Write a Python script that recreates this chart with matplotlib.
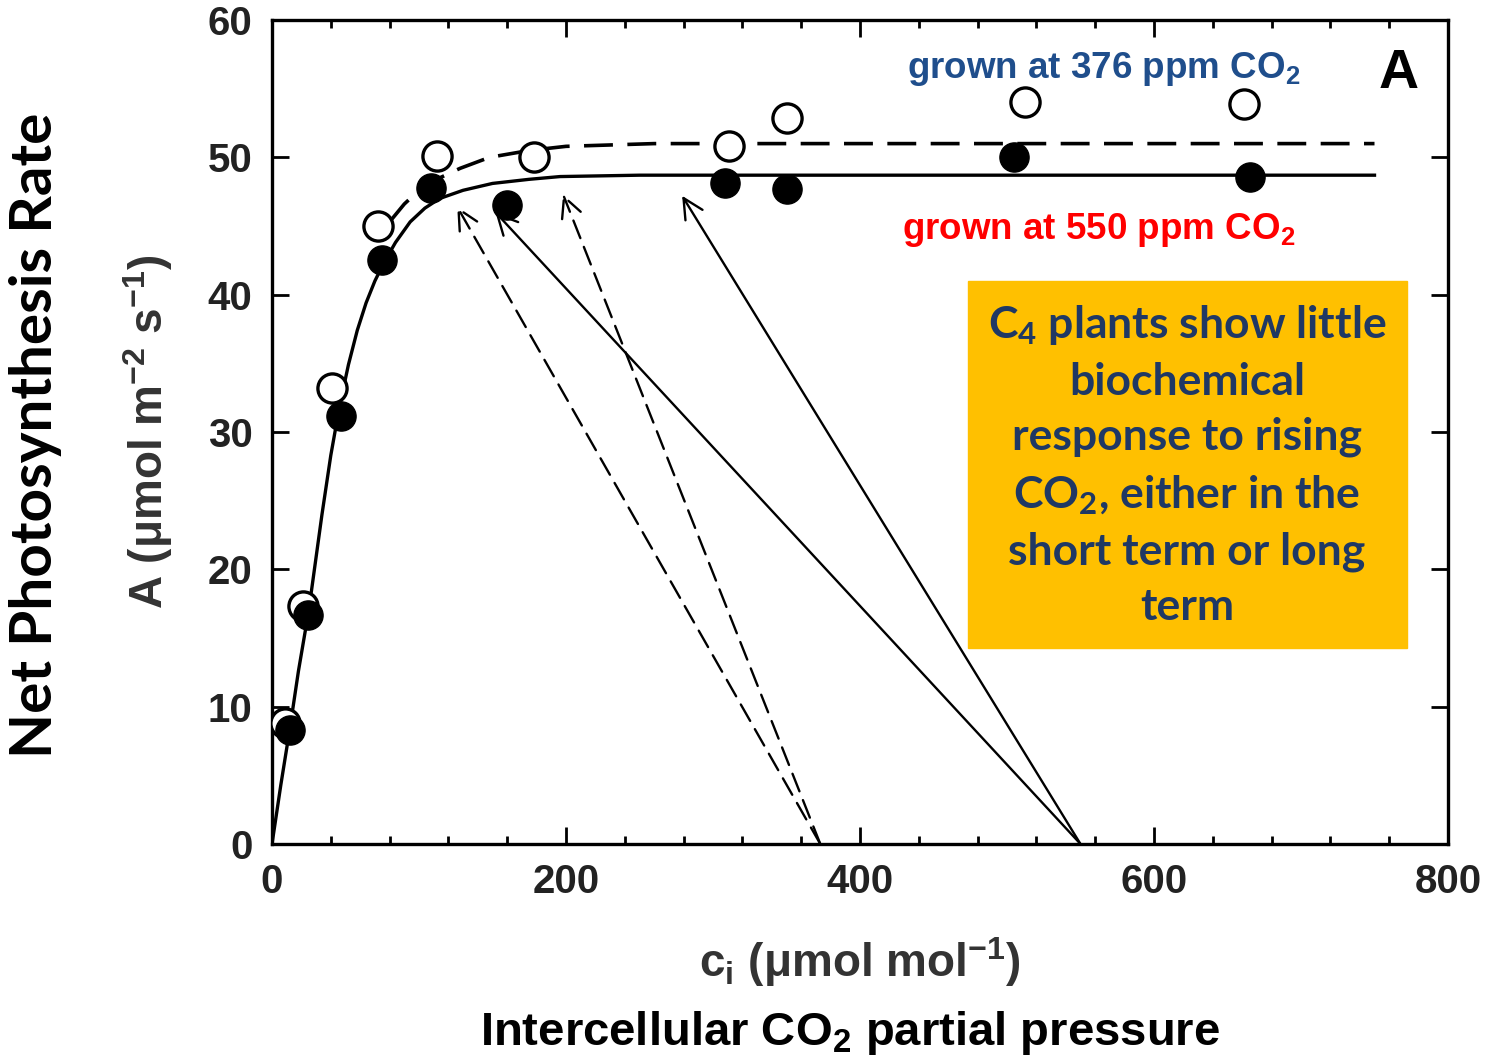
import matplotlib.pyplot as plt
from matplotlib.patches import Rectangle
from matplotlib.ticker import MultipleLocator

plt.rcParams['mathtext.default'] = 'regular'

# measured points (ci, A)
ci_376 = [9, 21, 41, 72, 112, 178, 311, 350, 512, 661]
a_376 = [8.8, 17.3, 33.2, 45.0, 50.1, 50.0, 50.8, 52.9, 54.0, 53.9]
ci_550 = [12, 24.5, 47, 75, 108, 160, 308, 350, 505, 665]
a_550 = [8.3, 16.7, 31.2, 42.5, 47.8, 46.5, 48.1, 47.7, 50.0, 48.6]

# fitted response curves
fit_550_x = [0, 6, 12, 18, 25, 34, 40, 46, 52, 58, 64, 70, 76, 84, 94, 104, 114, 130, 150, 175, 196, 250, 750]
fit_550_y = [0, 4.3, 8.3, 12.6, 17.0, 24.0, 28.3, 31.9, 34.9, 37.4, 39.4, 41.0, 42.3, 43.8, 45.3, 46.3, 47.0, 47.6, 48.1, 48.4, 48.6, 48.7, 48.7]
fit_376_x = [80, 90, 100, 114, 128, 148, 175, 200, 260, 750]
fit_376_y = [45.3, 46.6, 47.6, 48.5, 49.2, 50.0, 50.5, 50.8, 51.0, 51.0]

# arrows: growth Ca on the x axis -> operating ci on the curve
arrow_dashed = [(373, 126, 46.4), (373, 198, 47.3)]
arrow_solid = [(550, 152, 46.0), (550, 279, 47.2)]

fig = plt.figure(figsize=(14.89, 10.61), dpi=100)
ax = fig.add_axes([272 / 1489, 1 - 844 / 1061, 1176 / 1489, 824 / 1061])

ax.plot(fit_550_x, fit_550_y, color='black', lw=2.4, zorder=2)
ax.plot(fit_376_x, fit_376_y, color='black', lw=2.6, dashes=(8, 4), zorder=2)

for x0, x1, y1 in arrow_dashed:
    ax.annotate('', xy=(x1, y1), xytext=(x0, 0),
                arrowprops=dict(arrowstyle='->', color='black', lw=1.7,
                                linestyle=(0, (8, 4)), mutation_scale=36,
                                shrinkA=0, shrinkB=0))
for x0, x1, y1 in arrow_solid:
    ax.annotate('', xy=(x1, y1), xytext=(x0, 0),
                arrowprops=dict(arrowstyle='->', color='black', lw=1.7,
                                mutation_scale=36, shrinkA=0, shrinkB=0))

ax.plot(ci_376, a_376, 'o', ms=21, mfc='white', mec='black', mew=2.4, zorder=3)
ax.plot(ci_550, a_550, 'o', ms=21, mfc='black', mec='black', zorder=4)

ax.set_xlim(0, 800)
ax.set_ylim(0, 60)
ax.xaxis.set_major_locator(MultipleLocator(200))
ax.xaxis.set_minor_locator(MultipleLocator(40))
ax.yaxis.set_major_locator(MultipleLocator(10))
ax.tick_params(which='both', direction='in', top=True, right=True, width=2)
ax.tick_params(which='major', length=12, pad=14, labelsize=29)
ax.tick_params(which='minor', length=6)
for lab in ax.get_xticklabels() + ax.get_yticklabels():
    lab.set_fontfamily('Liberation Sans')
    lab.set_fontweight('bold')
    lab.set_color('#222222')
for sp in ax.spines.values():
    sp.set_linewidth(2.4)

ax.text(0.707, 0.94, 'grown at 376 ppm CO$_2$', transform=ax.transAxes,
        ha='center', va='center', fontsize=26.5, fontweight='bold',
        family='Liberation Sans', color='#1f4e8c')
ax.text(0.703, 0.745, 'grown at 550 ppm CO$_2$', transform=ax.transAxes,
        ha='center', va='center', fontsize=26.5, fontweight='bold',
        family='Liberation Sans', color='#ff0000')
ax.text(0.958, 0.935, 'A', transform=ax.transAxes, ha='center', va='center',
        fontsize=40, fontweight='bold', family='Liberation Sans')

fig.patches.append(Rectangle((968 / 1489, 1 - 648 / 1061), 439 / 1489, 367 / 1061,
                             transform=fig.transFigure, color='#ffc000', zorder=5))
fig.text(1187 / 1489, 1 - 465 / 1061,
         'C$_4$ plants show little\nbiochemical\nresponse to rising\n'
         'CO$_2$, either in the\nshort term or long\nterm',
         ha='center', va='center', fontsize=32, fontweight='bold',
         family='Lato', color='#1f3864', linespacing=1.45, zorder=6)

fig.text(148 / 1489, 1 - 432 / 1061, 'A (μmol m$^{-2}$ s$^{-1}$)', rotation=90,
         ha='center', va='center', fontsize=33, fontweight='bold',
         family='Liberation Sans', color='#333333')
fig.text(860 / 1489, 1 - 962 / 1061, 'c$_i$ (μmol mol$^{-1}$)',
         ha='center', va='center', fontsize=33, fontweight='bold',
         family='Liberation Sans', color='#333333')
fig.text(36 / 1489, 1 - 435 / 1061, 'Net Photosynthesis Rate', rotation=90,
         ha='center', va='center', fontsize=42, fontweight='bold', family='Lato')
fig.text(850 / 1489, 1 - 1033 / 1061, 'Intercellular CO$_2$ partial pressure',
         ha='center', va='center', fontsize=34, fontweight='bold',
         family='Liberation Sans')

fig.savefig('out.png', dpi=100)
